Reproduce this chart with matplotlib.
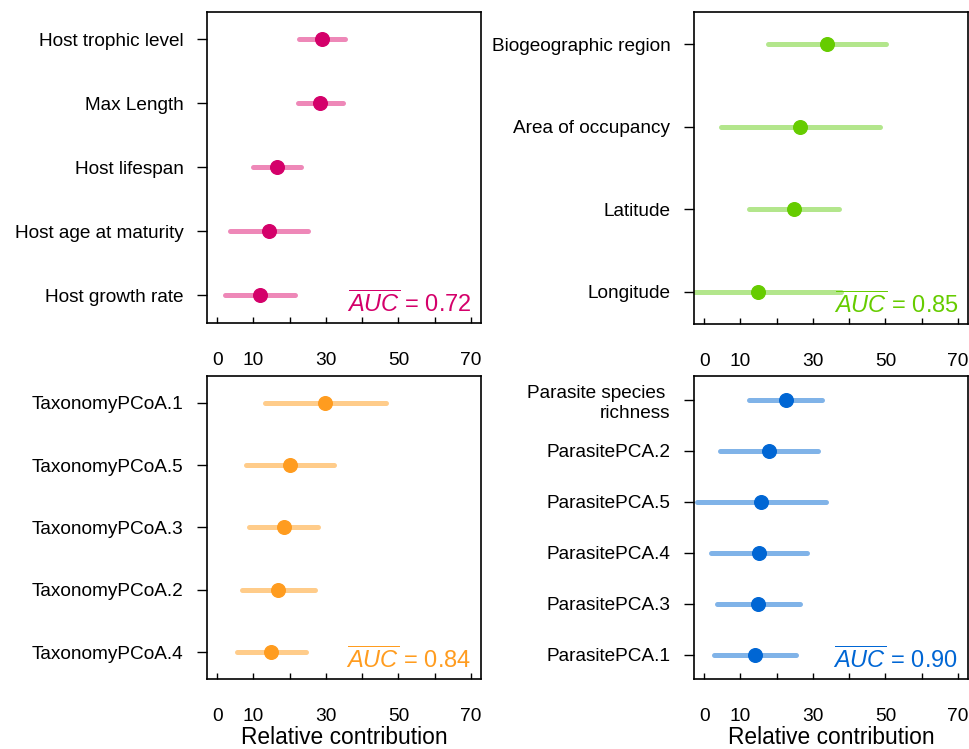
import matplotlib
matplotlib.use("Agg")
import matplotlib.pyplot as plt

plt.rcParams['font.family'] = ['Liberation Sans', 'DejaVu Sans']
plt.rcParams['mathtext.fontset'] = 'custom'
plt.rcParams['mathtext.rm'] = 'Liberation Sans'
plt.rcParams['mathtext.it'] = 'Liberation Sans:italic'

# panel 1: host traits
host_labels = ["Host trophic level", "Max Length", "Host lifespan",
               "Host age at maturity", "Host growth rate"]
host_mean = [29.0, 28.5, 16.6, 14.2, 11.9]
host_low = [22.7, 22.3, 9.8, 3.5, 2.2]
host_high = [35.2, 34.8, 23.2, 25.0, 21.5]

# panel 2: geography
geo_labels = ["Biogeographic region", "Area of occupancy", "Latitude", "Longitude"]
geo_mean = [33.9, 26.5, 24.8, 14.9]
geo_low = [17.7, 4.6, 12.3, -4.0]
geo_high = [50.1, 48.4, 37.3, 37.8]

# panel 3: taxonomy
tax_labels = ["TaxonomyPCoA.1", "TaxonomyPCoA.5", "TaxonomyPCoA.3",
              "TaxonomyPCoA.2", "TaxonomyPCoA.4"]
tax_mean = [29.8, 20.1, 18.4, 16.9, 14.8]
tax_low = [13.2, 8.0, 8.9, 6.9, 5.4]
tax_high = [46.5, 32.2, 27.8, 26.9, 24.5]

# panel 4: parasites
par_labels = ["Parasite species \nrichness", "ParasitePCA.2", "ParasitePCA.5",
              "ParasitePCA.4", "ParasitePCA.3", "ParasitePCA.1"]
par_mean = [22.5, 18.0, 15.7, 15.1, 14.9, 13.9]
par_low = [12.4, 4.4, -2.1, 1.8, 3.6, 2.6]
par_high = [32.5, 31.3, 33.5, 28.4, 26.4, 25.3]

auc_values = ["0.72", "0.85", "0.84", "0.90"]

x_ticks = [0, 10, 20, 30, 40, 50, 60, 70]
x_ticklabels = ["0", "10", "", "30", "", "50", "", "70"]

panels = [
    (host_labels, host_mean, host_low, host_high, "#D4006A", "#EE88B8"),
    (geo_labels, geo_mean, geo_low, geo_high, "#66CC00", "#B3E68C"),
    (tax_labels, tax_mean, tax_low, tax_high, "#FF9C1F", "#FFCC8A"),
    (par_labels, par_mean, par_low, par_high, "#0066D4", "#80B3E8"),
]

fig = plt.figure(figsize=(9.7, 7.49), dpi=100)
boxes = [
    [0.2134, 0.5688, 0.2825, 0.4152],
    [0.7155, 0.5675, 0.2825, 0.4165],
    [0.2134, 0.0935, 0.2825, 0.4045],
    [0.7155, 0.0935, 0.2825, 0.4045],
]

for i, (labels, mean, low, high, dark, light) in enumerate(panels):
    ax = fig.add_axes(boxes[i])
    n = len(labels)
    ys = list(range(n, 0, -1))
    for y, m, lo, hi in zip(ys, mean, low, high):
        ax.plot([lo, hi], [y, y], color=light, lw=3.6, solid_capstyle='round', zorder=2)
        ax.plot(m, y, 'o', color=dark, ms=9.8, zorder=3)
    ax.set_xlim(-2.8, 72.8)
    ext = 0.04 * (n - 0.5)
    ax.set_ylim(0.75 - ext, n + 0.25 + ext)
    ax.set_yticks(ys)
    ax.set_yticklabels(labels, fontsize=13.7, multialignment='right')
    ax.set_xticks(x_ticks)
    ax.set_xticklabels(x_ticklabels, fontsize=13.8)
    ax.tick_params(axis='y', direction='out', length=7, width=1, pad=10)
    ax.tick_params(axis='x', direction='in', length=4, width=1, pad=21)
    for s in ax.spines.values():
        s.set_linewidth(1.2)
    ax.text(0.965, 0.02, r'$\overline{AUC}$ = ' + auc_values[i], color=dark,
            fontsize=17, ha='right', va='bottom', transform=ax.transAxes)
    if i >= 2:
        ax.set_xlabel("Relative contribution", fontsize=16.4)
        ax.xaxis.set_label_coords(0.5, -0.155)

fig.savefig("out.png", dpi=100)
